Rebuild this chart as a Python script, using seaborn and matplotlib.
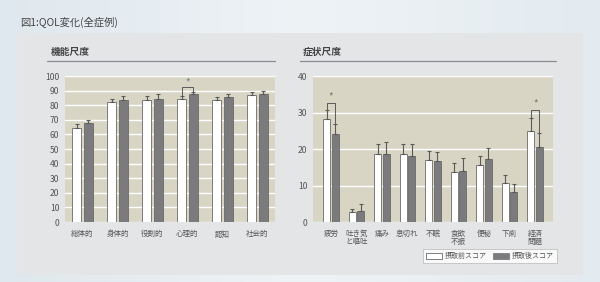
import numpy as np
import pandas as pd
import matplotlib
matplotlib.use("Agg")
import matplotlib.pyplot as plt
from matplotlib.patches import Rectangle, Patch
from matplotlib.lines import Line2D
from matplotlib.colors import LinearSegmentedColormap
import seaborn as sns

# ---- data ----
func_cats = ["総体的", "身体的", "役割的", "心理的", "認知", "社会的"]
func_before = [64.5, 82.5, 83.5, 84.5, 83.5, 87.0]
func_before_err = [2.5, 2.0, 3.0, 2.0, 2.0, 2.0]
func_after = [67.5, 83.5, 84.5, 87.5, 85.5, 88.0]
func_after_err = [2.5, 2.5, 3.0, 1.5, 2.0, 2.0]

sym_cats = ["疲労", "吐き気\nと嘔吐", "痛み", "息切れ", "不眠", "食欲\n不振", "便秘", "下痢", "経済\n問題"]
sym_before = [28.3, 2.7, 18.6, 18.6, 17.1, 13.7, 15.6, 10.8, 25.0]
sym_before_err = [2.5, 0.8, 2.9, 2.8, 2.3, 2.5, 2.6, 2.1, 3.6]
sym_after = [24.2, 3.1, 18.5, 18.1, 16.6, 14.0, 17.2, 8.3, 20.5]
sym_after_err = [2.6, 1.7, 3.5, 3.2, 2.7, 3.5, 3.0, 2.0, 3.8]

series = ["摂取前スコア", "摂取後スコア"]
title = "図1:QOL変化(全症例)"
sub_left = "機能尺度"
sub_right = "症状尺度"
left_ticks = list(range(0, 101, 10))
right_ticks = list(range(0, 41, 10))

# significance: (category index, bracket top, star y)
left_sig = [(3, 92.5, 95.5)]
right_sig = [(0, 32.7, 34.3), (8, 30.7, 32.4)]

sns.set_theme(style="white")
plt.rcParams["font.family"] = ["Noto Sans CJK JP", "DejaVu Sans"]

BG_AX = "#d8d5c4"
WHITE_BAR = "#ffffff"
GRAY_BAR = "#7b7b7d"
EDGE = "#6a6a6a"
TXT = "#555555"

fig = plt.figure(figsize=(6.0, 2.82), dpi=100)
fig.patch.set_facecolor("#e8eff4")

# background gradient
bg = fig.add_axes([0, 0, 1, 1], zorder=-10)
grad = np.linspace(0, 1, 256).reshape(1, -1)
cm = LinearSegmentedColormap.from_list("g", ["#dfe8ee", "#eef3f6", "#e3ebf0"])
bg.imshow(grad, aspect="auto", cmap=cm, extent=[0, 1, 0, 1])
bg.set_axis_off()
# panel
fig.patches.append(Rectangle((17 / 600, 1 - 275 / 282), (583 - 17) / 600, (275 - 33) / 282,
                             transform=fig.transFigure, facecolor="#e3e5e7",
                             edgecolor="none", zorder=-5))

fig.text(20 / 600, 1 - 22 / 282, title, fontsize=7.4, color="#444444", va="center", ha="left")


def make_df(cats, b, a):
    return pd.DataFrame({
        "cat": cats * 2,
        "val": list(b) + list(a),
        "series": [series[0]] * len(cats) + [series[1]] * len(cats),
    })


def draw(ax, cats, b, be, a, ae, ticks, sigs, xlim):
    df = make_df(cats, b, a)
    sns.barplot(data=df, x="cat", y="val", hue="series", hue_order=series,
                palette=[WHITE_BAR, GRAY_BAR], width=0.68, gap=0.2,
                edgecolor=EDGE, linewidth=0.6, errorbar=None, ax=ax, legend=False,
                zorder=3)
    ax.set_facecolor(BG_AX)
    for s in ax.spines.values():
        s.set_visible(False)
    ax.set_yticks(ticks)
    ax.set_ylim(ticks[0], ticks[-1])
    ax.set_xlim(*xlim)
    ax.grid(axis="y", color="white", linewidth=1.0, zorder=0)
    ax.set_axisbelow(True)
    ax.tick_params(axis="y", length=0, labelsize=6.2, labelcolor=TXT, pad=4)
    ax.tick_params(axis="x", length=0, labelsize=5.4, labelcolor=TXT, pad=6)
    ax.set_xlabel("")
    ax.set_ylabel("")
    for lbl in ax.get_xticklabels():
        lbl.set_linespacing(0.95)
        lbl.set_va("top")
    centers = []
    for ci, (vals, errs) in enumerate([(b, be), (a, ae)]):
        cont = ax.containers[ci]
        xs = [p.get_x() + p.get_width() / 2 for p in cont.patches]
        centers.append(xs)
        ax.errorbar(xs, vals, yerr=[np.zeros(len(vals)), errs], fmt="none",
                    ecolor="#5a5a5a", elinewidth=0.8, capsize=1.6, capthick=0.8,
                    zorder=4)
    for idx, top, star in sigs:
        x0 = centers[0][idx]
        x1 = centers[1][idx]
        y0 = b[idx] + be[idx]
        y1 = a[idx] + ae[idx]
        ax.plot([x0, x0, x1, x1], [y0, top, top, y1], color="#5a5a5a",
                linewidth=0.7, zorder=5, clip_on=False)
        ax.text((x0 + x1) / 2, star, "*", ha="center", va="center",
                fontsize=7, color="#777777", zorder=5)
    return centers


axL = fig.add_axes([65 / 600, 1 - 222 / 282, 210 / 600, 146 / 282])
axR = fig.add_axes([313 / 600, 1 - 222 / 282, 240 / 600, 146 / 282])
draw(axL, func_cats, func_before, func_before_err, func_after, func_after_err,
     left_ticks, left_sig, (-0.5, 5.5))
draw(axR, sym_cats, sym_before, sym_before_err, sym_after, sym_after_err,
     right_ticks, right_sig, (-0.7, 8.7))

# subtitles and underline rules
fig.text(51 / 600, 1 - 52 / 282, sub_left, fontsize=7, fontweight="bold",
         color="#444444", va="center")
fig.text(303 / 600, 1 - 52 / 282, sub_right, fontsize=7, fontweight="bold",
         color="#444444", va="center")
fig.add_artist(Line2D([47 / 600, 275 / 600], [1 - 61 / 282] * 2,
                      transform=fig.transFigure, color="#8a8d90", linewidth=0.9))
fig.add_artist(Line2D([300 / 600, 556 / 600], [1 - 61 / 282] * 2,
                      transform=fig.transFigure, color="#8a8d90", linewidth=0.9))

# legend
handles = [Patch(facecolor=WHITE_BAR, edgecolor=EDGE, linewidth=0.6),
           Patch(facecolor=GRAY_BAR, edgecolor=GRAY_BAR, linewidth=0.6)]
leg = fig.legend(handles, series, loc="center", ncol=2,
                 bbox_to_anchor=(490 / 600, 1 - 256 / 282), fontsize=5,
                 frameon=True, fancybox=False, edgecolor="#b5b5b5",
                 handlelength=2.2, handleheight=1.0, columnspacing=1.0,
                 handletextpad=0.4, borderpad=0.5, labelcolor=TXT)
leg.get_frame().set_linewidth(0.6)
leg.get_frame().set_facecolor("white")

fig.savefig("out.png", dpi=100, facecolor=fig.get_facecolor())
